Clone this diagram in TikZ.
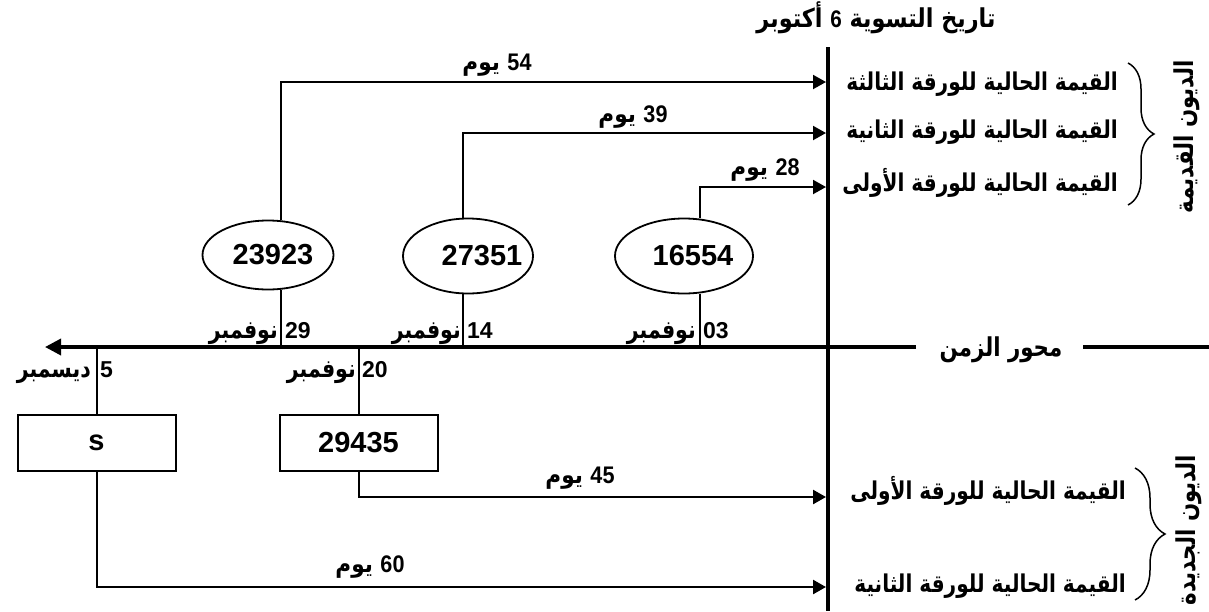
\documentclass[tikz,border=0pt]{standalone}
\usepackage{fontspec}
\usetikzlibrary{arrows.meta,shapes.geometric,decorations.pathreplacing}
\TeXXeTstate=1
\newfontfamily\arfont[Script=Arabic]{DejaVu Sans}
\newfontfamily\numfont{Liberation Sans}
\newcommand{\dnum}[1]{\beginL{\numfont\bfseries\fontsize{24}{28}\selectfont #1}\endL}
\newcommand{\ars}[2][0.82]{\scalebox{#1}[1]{\beginR #2\endR}}
\tikzset{
  mainln/.style={line width=3.5pt},
  thinln/.style={line width=1.5pt},
  arrT/.style={line width=2pt,-{Triangle[length=13pt,width=14pt]}},
  arrB/.style={line width=2.5pt,-{Triangle[length=13pt,width=14pt]}},
  valell/.style={draw,ellipse,line width=1.8pt,inner sep=0pt,minimum width=131pt,minimum height=69pt,font=\numfont\bfseries\fontsize{29}{34}\selectfont},
  valbox/.style={draw,rectangle,line width=2pt,inner sep=0pt,minimum width=158pt,minimum height=56pt,font=\numfont\bfseries\fontsize{29}{34}\selectfont},
  numlbl/.style={inner sep=0pt,anchor=base west,font=\numfont\bfseries\fontsize{23}{27}\selectfont},
  wordlbl/.style={inner sep=0pt,anchor=base east,font=\arfont\bfseries\fontsize{25}{29}\selectfont},
  daylbl/.style={inner sep=0pt,anchor=base,font=\arfont\bfseries\fontsize{24}{28}\selectfont},
  ttllbl/.style={inner sep=0pt,anchor=base,font=\arfont\bfseries\fontsize{26}{30}\selectfont},
  rowlbl/.style={inner sep=0pt,anchor=base east,font=\arfont\bfseries\fontsize{24.5}{29}\selectfont},
  sidelbl/.style={inner sep=0pt,rotate=90,font=\arfont\bfseries\fontsize{26}{30}\selectfont},
  bracest/.style={line width=1.5pt,decorate},
}
\begin{document}
\begin{tikzpicture}[x=1pt,y=-1pt]
\useasboundingbox (0,0) rectangle (1209,611);
% main vertical line (settlement date)
\coordinate (vtop) at (828,47);
\coordinate (vbot) at (828,611);
\draw[mainln] (vtop) -- (vbot);
\node[ttllbl] (title) at (876,27) {\ars[0.86]{تاريخ التسوية \dnum{6} أكتوبر}};
% time axis
\coordinate (axR) at (916,347);
\coordinate (axL) at (45,347);
\coordinate (axR2) at (1083,347);
\coordinate (axEnd) at (1209,347);
\draw[mainln,-{Triangle[length=16pt,width=16pt]}] (axR) -- (axL);
\draw[mainln] (axR2) -- (axEnd);
\node[ttllbl,anchor=center] (axlbl) at (1001,350) {\ars{محور الزمن}};
% ellipses
\node[valell] (e1) at (268,255) {\makebox[0pt]{\hspace{10pt}23923}};
\node[valell,minimum width=130pt,minimum height=75pt] (e2) at (468,256) {\makebox[0pt]{\hspace{28pt}27351}};
\node[valell,minimum width=138pt,minimum height=75pt] (e3) at (684,256) {\makebox[0pt]{\hspace{18pt}16554}};
% boxes
\node[valbox] (bS) at (96.5,443) {s};
\node[valbox] (b2) at (358.5,443) {29435};
% tick coordinates on the axis
\coordinate (t29) at (281,347);
\coordinate (t14) at (463,347);
\coordinate (t03) at (700,347);
\coordinate (t5) at (97,347);
\coordinate (t20) at (359,347);
% arrow targets on the vertical line
\coordinate (p1) at (826,82);
\coordinate (p2) at (826,133);
\coordinate (p3) at (826,187);
\coordinate (q1) at (826,497);
\coordinate (q2) at (826,587);
% upper connectors
\draw[thinln] (t29) -- (t29 |- e1.south);
\draw[thinln] (t14) -- (t14 |- e2.south);
\draw[thinln] (t03) -- (t03 |- e3.south);
\draw[arrT] (t29 |- e1.north) |- (p1);
\draw[arrT] (t14 |- e2.north) |- (p2);
\draw[arrT] (t03 |- e3.north) |- (p3);
% lower connectors
\draw[thinln] (t5) -- (t5 |- bS.north);
\draw[thinln] (t20) -- (t20 |- b2.north);
\draw[arrB] (t5 |- bS.south) |- (q2);
\draw[arrB] (t20 |- b2.south) |- (q1);
% date labels
\node[numlbl] (n29) at (285,338) {29};
\node[wordlbl] (w29) at (278,338) {\ars{نوفمبر}};
\node[numlbl] (n14) at (467,338) {14};
\node[wordlbl] (w14) at (461,338) {\ars{نوفمبر}};
\node[numlbl] (n03) at (703,338) {03};
\node[wordlbl] (w03) at (696,338) {\ars{نوفمبر}};
\node[numlbl] (n5) at (100,377) {5};
\node[wordlbl] (w5) at (91,377) {\ars{ديسمبر}};
\node[numlbl] (n20) at (362,377) {20};
\node[wordlbl] (w20) at (356,377) {\ars{نوفمبر}};
% day labels
\node[daylbl] (d54) at (497,70) {\ars[0.9]{\dnum{54} يوم}};
\node[daylbl] (d39) at (633,122) {\ars[0.9]{\dnum{39} يوم}};
\node[daylbl] (d28) at (765,175) {\ars[0.9]{\dnum{28} يوم}};
\node[daylbl] (d45) at (580,483) {\ars[0.9]{\dnum{45} يوم}};
\node[daylbl] (d60) at (370,572) {\ars[0.9]{\dnum{60} يوم}};
% row labels
\node[rowlbl] (r1) at (1118,90) {\ars{القيمة الحالية للورقة الثالثة}};
\node[rowlbl] (r2) at (1118,138) {\ars{القيمة الحالية للورقة الثانية}};
\node[rowlbl] (r3) at (1118,191) {\ars{القيمة الحالية للورقة الأولى}};
\node[rowlbl] (s1) at (1126,499) {\ars{القيمة الحالية للورقة الأولى}};
\node[rowlbl] (s2) at (1126,592) {\ars{القيمة الحالية للورقة الثانية}};
% braces
\coordinate (ba1) at (1128,63);
\coordinate (ba2) at (1128,205);
\coordinate (bb1) at (1135,468);
\coordinate (bb2) at (1135,600);
\draw[bracest,decoration={brace,amplitude=26pt}] (ba1) -- (ba2);
\draw[bracest,decoration={brace,amplitude=30pt}] (bb1) -- (bb2);
% side labels
\node[sidelbl] (old) at (1187,137) {\ars{الديون القديمة}};
\node[sidelbl] (new) at (1189,530) {\ars{الديون الجديدة}};
\end{tikzpicture}
\end{document}
